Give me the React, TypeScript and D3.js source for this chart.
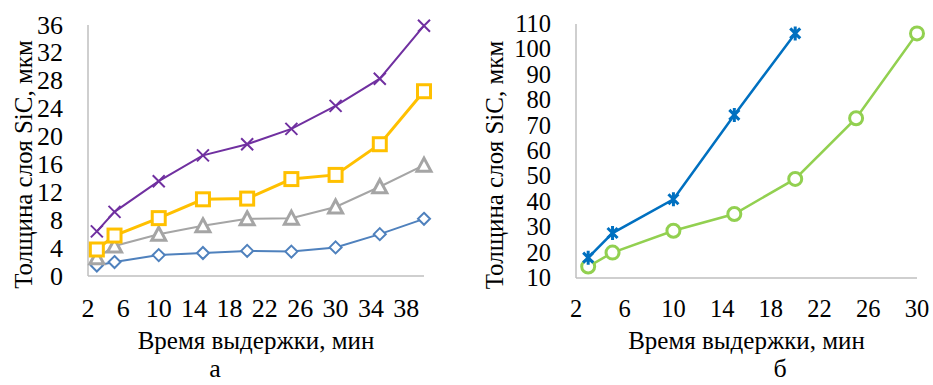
import React from "react";
import * as d3 from "d3";

// время выдержки, мин
const timeA = [3, 5, 10, 15, 20, 25, 30, 35, 40];
const timeB = [3, 5, 10, 15, 20, 25, 30];

// рис. а — толщина слоя SiC, мкм
const seriesBlueDiamond = [1.5, 2.0, 3.0, 3.3, 3.6, 3.5, 4.1, 6.0, 8.2];
const seriesGrayTriangle = [2.6, 4.3, 6.0, 7.2, 8.2, 8.3, 9.9, 12.8, 15.9];
const seriesYellowSquare = [3.8, 5.8, 8.3, 11.0, 11.1, 13.9, 14.5, 18.9, 26.5];
const seriesPurpleCross = [6.4, 9.2, 13.6, 17.3, 18.9, 21.1, 24.4, 28.3, 35.9];

// рис. б
const seriesBlueStar = [18, 27.7, 41, 74.2, 106.3];
const seriesGreenCircle = [14.5, 20, 28.6, 35.2, 49, 72.9, 106.3];

const ticksXA = [2, 6, 10, 14, 18, 22, 26, 30, 34, 38];
const ticksYA = [0, 4, 8, 12, 16, 20, 24, 28, 32, 36];
const ticksXB = [2, 6, 10, 14, 18, 22, 26, 30];
const ticksYB = [10, 20, 30, 40, 50, 60, 70, 80, 90, 100, 110];

const AXIS = "#BFBFBF";
const serif = { fontFamily: '"Liberation Serif"' };

type Marker = "diamond" | "triangle" | "square" | "cross" | "star" | "circle";

const drawMarker = (type: Marker, x: number, y: number, color: string, key: number) => {
  switch (type) {
    case "diamond":
      return <path key={key} d={`M${x},${y - 6}L${x + 6},${y}L${x},${y + 6}L${x - 6},${y}Z`} fill="#fff" stroke={color} strokeWidth={2} />;
    case "triangle":
      return <path key={key} d={`M${x},${y - 7}L${x + 7},${y + 6}L${x - 7},${y + 6}Z`} fill="#fff" stroke={color} strokeWidth={3} />;
    case "square":
      return <rect key={key} x={x - 6.5} y={y - 6.5} width={13} height={13} fill="#fff" stroke={color} strokeWidth={3} />;
    case "cross":
      return <path key={key} d={`M${x - 6},${y - 6}L${x + 6},${y + 6}M${x + 6},${y - 6}L${x - 6},${y + 6}`} stroke={color} strokeWidth={2} />;
    case "star":
      return <path key={key} d={`M${x - 5},${y - 5}L${x + 5},${y + 5}M${x + 5},${y - 5}L${x - 5},${y + 5}M${x},${y - 7}L${x},${y + 7}`} stroke={color} strokeWidth={3} />;
    case "circle":
      return <circle key={key} cx={x} cy={y} r={6.5} fill="#fff" stroke={color} strokeWidth={3} />;
  }
};

type Series = { values: number[]; color: string; marker: Marker; width: number };

const Panel = ({
  left, right, top, bottom, xDomain, yDomain, xTicks, yTicks, xs, series, letter, letterX, titleX, tickSize,
}: {
  left: number; right: number; top: number; bottom: number;
  xDomain: [number, number]; yDomain: [number, number];
  xTicks: number[]; yTicks: number[]; xs: number[]; series: Series[];
  letter: string; letterX: number; titleX: number; tickSize: number;
}) => {
  const x = d3.scaleLinear().domain(xDomain).range([left, right]);
  const y = d3.scaleLinear().domain(yDomain).range([bottom, top]);
  const cx = (left + right) / 2;
  return (
    <g>
      {/* оси */}
      <line x1={left} x2={left} y1={top} y2={bottom} stroke={AXIS} strokeWidth={1.5} />
      <line x1={left} x2={right} y1={bottom} y2={bottom} stroke={AXIS} strokeWidth={1.5} />
      {yTicks.map((t) => (
        <text key={t} x={left - 25} y={y(t) + tickSize * 0.33} textAnchor="end" fontSize={tickSize} style={serif}>{t}</text>
      ))}
      {xTicks.map((t) => (
        <text key={t} x={x(t)} y={317} textAnchor="middle" fontSize={tickSize} style={serif}>{t}</text>
      ))}
      <text x={cx} y={349} textAnchor="middle" fontSize={25} style={serif}>Время выдержки, мин</text>
      <text x={letterX} y={377} textAnchor="middle" fontSize={26} style={serif}>{letter}</text>
      <text transform={`translate(${titleX},${(top + bottom) / 2 + 14}) rotate(-90)`} textAnchor="middle" fontSize={25} style={serif}>
        Толщина слоя SiC, мкм
      </text>
      {series.map((s, i) => {
        const pts = s.values.map((v, j) => [x(xs[j]), y(v)] as [number, number]);
        return (
          <g key={i}>
            <path d={d3.line()(pts) ?? ""} fill="none" stroke={s.color} strokeWidth={s.width} />
            {pts.map((p, j) => drawMarker(s.marker, p[0], p[1], s.color, j))}
          </g>
        );
      })}
    </g>
  );
};

export default function App() {
  return (
    <svg width={933} height={385} style={{ position: "absolute", left: 0, top: 0, background: "#fff" }}>
      <rect width={933} height={385} fill="#fff" />
      <Panel
        left={88} right={424} top={25} bottom={276} titleX={32} tickSize={26}
        xDomain={[2, 40]} yDomain={[0, 36]}
        xTicks={ticksXA} yTicks={ticksYA} xs={timeA} letter="а" letterX={215}
        series={[
          { values: seriesBlueDiamond, color: "#4F81BD", marker: "diamond", width: 2 },
          { values: seriesGrayTriangle, color: "#A5A5A5", marker: "triangle", width: 2 },
          { values: seriesYellowSquare, color: "#FFC000", marker: "square", width: 3 },
          { values: seriesPurpleCross, color: "#7030A0", marker: "cross", width: 2 },
        ]}
      />
      <Panel
        left={576} right={917} top={24} bottom={278} titleX={503} tickSize={24.5}
        xDomain={[2, 30]} yDomain={[10, 110]}
        xTicks={ticksXB} yTicks={ticksYB} xs={timeB} letter="б" letterX={780}
        series={[
          { values: seriesGreenCircle, color: "#92D050", marker: "circle", width: 2.5 },
          { values: seriesBlueStar, color: "#0070C0", marker: "star", width: 2.5 },
        ]}
      />
    </svg>
  );
}
